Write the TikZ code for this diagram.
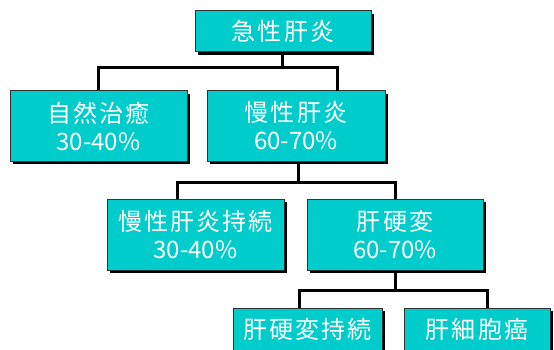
\documentclass[tikz,border=0pt]{standalone}
\usepackage{fontspec}
\setmainfont{Noto Sans CJK JP}
\newfontfamily\cjk[LetterSpace=9]{Noto Sans CJK JP}
\usetikzlibrary{shadows}
\definecolor{boxcyan}{HTML}{00CCCC}
\definecolor{boxedge}{HTML}{333333}
\tikzset{
  box/.style={draw=boxedge, line width=1pt, fill=boxcyan, text=white, align=center,
    inner sep=0pt, font=\fontsize{24}{28}\selectfont,
    drop shadow={shadow xshift=3pt, shadow yshift=-3pt, fill=black, opacity=1}},
  conn/.style={line width=3pt, black}
}
\begin{document}
\begin{tikzpicture}[x=1pt,y=-1pt]
\useasboundingbox (0,0) rectangle (554,350);
\clip (0,0) rectangle (554,350);
% connector joints
\coordinate (j1) at (282,68);
\coordinate (cin) at (337,91);
\coordinate (j2) at (298,182);
\coordinate (din) at (177,199);
\coordinate (j3) at (395,290);
\coordinate (fin) at (299,308);
\coordinate (gin) at (487,308);
% boxes
\node[box, minimum width=176pt, minimum height=41pt] (a) at (283,31.5) {{\cjk 急性肝炎}};
\node[box, minimum width=177pt, minimum height=70pt] (b) at (98.5,126) {{\cjk 自然治癒}\\30-40\%};
\node[box, minimum width=178pt, minimum height=70pt] (c) at (296,126) {{\cjk 慢性肝炎}\\60-70\%};
\node[box, minimum width=177pt, minimum height=71pt] (d) at (195.5,234.5) {{\cjk 慢性肝炎持続}\\30-40\%};
\node[box, minimum width=176pt, minimum height=71pt] (e) at (395,234.5) {{\cjk 肝硬変}\\60-70\%};
\node[box, minimum width=149pt, minimum height=42pt] (f) at (307.5,329) {{\cjk 肝硬変持続}};
\node[box, minimum width=146pt, minimum height=42pt] (g) at (477,329) {{\cjk 肝細胞癌}};
% connectors
\draw[conn] (a.south -| j1) -- (j1) -| (b.north);
\draw[conn] (j1) -| (cin);
\draw[conn] (c.south -| j2) -- (j2) -| (din);
\draw[conn] (j2) -| (e.north);
\draw[conn] (e.south) -- (j3) -| (fin);
\draw[conn] (j3) -| (gin);
\end{tikzpicture}
\end{document}
